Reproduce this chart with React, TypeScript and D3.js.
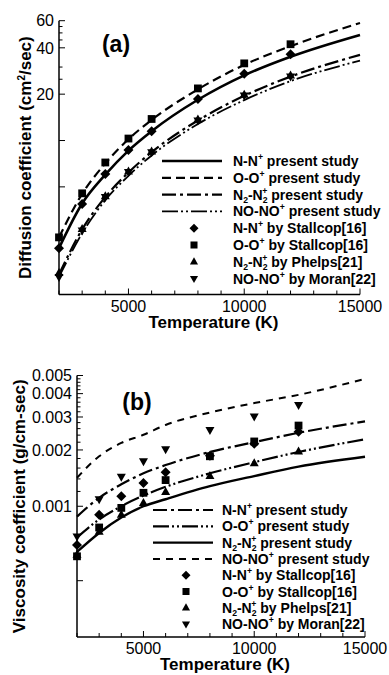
import React from 'react';
import * as d3 from 'd3';

// ---------- data ----------
const lineTemps = [2000, 3000, 4000, 5000, 6000, 8000, 10000, 12000, 15000];
const refTemps = [2000, 3000, 4000, 5000, 6000, 8000, 10000, 12000];
const xTickLabels = [5000, 10000, 15000];

// Panel (a) diffusion coefficient (cm^2/sec)
const diffNNLine = [2.0, 3.9, 6.0, 8.6, 11.5, 18.4, 26.5, 35.0, 48.5];
const diffOOLine = [2.35, 4.5, 7.1, 10.2, 13.6, 21.5, 31.0, 41.0, 58.0];
const diffN2Line = [1.35, 2.65, 4.3, 6.2, 8.4, 13.5, 19.5, 26.0, 36.0];
const diffNOLine = [1.3, 2.5, 4.1, 5.9, 8.0, 12.8, 18.3, 24.3, 33.0];
const diffNNStallcop = [2.0, 3.87, 6.06, 8.68, 11.5, 18.6, 27.1, 36.3];
const diffOOStallcop = [2.35, 4.54, 7.2, 10.3, 13.8, 21.8, 31.7, 42.2];
const diffN2Phelps = [1.38, 2.66, 4.35, 6.3, 8.5, 13.7, 19.8, 26.4];
const diffNOMoran = [1.3, 2.6, 4.3, 6.25, 8.4, 13.5, 19.6, 26.0];
const diffYTickLabels = [20, 40, 60];
const diffYUnlabeled = [5, 10];
const diffYMinor = [25, 30, 45, 50, 55];

// Panel (b) viscosity coefficient (g/cm-sec)
const viscNNLine = [0.00088, 0.00111, 0.00131, 0.0015, 0.00166, 0.00195, 0.0022, 0.00247, 0.00284];
const viscOOLine = [0.00068, 0.00085, 0.001, 0.00114, 0.00127, 0.0015, 0.00172, 0.00195, 0.00228];
const viscN2Line = [0.00057, 0.00072, 0.00087, 0.001, 0.00109, 0.00128, 0.00145, 0.00163, 0.00184];
const viscNOLine = [0.00142, 0.00185, 0.00218, 0.00241, 0.00272, 0.00317, 0.00356, 0.00394, 0.0048];
const viscNNStallcop = [0.00062, 0.0009, 0.00113, 0.00133, 0.00152, 0.00186, 0.00216, 0.0025];
const viscOOStallcop = [0.00054, 0.00077, 0.00098, 0.00118, 0.00138, 0.00185, 0.00222, 0.0027];
const viscN2Phelps = [0.00055, 0.00073, 0.0009, 0.00104, 0.00119, 0.00145, 0.0017, 0.00196];
const viscNOMoran = [0.00069, 0.00109, 0.00144, 0.00174, 0.00202, 0.00256, 0.00302, 0.00348];
const viscYTickLabels = ['0.001', '0.002', '0.003', '0.004', '0.005'];
const viscYUnlabeled = [0.0004];
const viscYMinor = [0.0012, 0.0014, 0.0016, 0.0018, 0.0022, 0.0024, 0.0026, 0.0028,
  0.0032, 0.0034, 0.0036, 0.0038, 0.0042, 0.0044, 0.0046, 0.0048];

// ---------- styles ----------
const DASH: Record<string, string | undefined> = {
  solid: undefined,
  dashed: '9,5',
  dashedShort: '7,6',
  dashdot: '14,4,3,4',
  dashdotdot: '16,3,2,3,2,3',
};

type Species = 'NN' | 'OO' | 'N2' | 'NO';

function SpeciesText({ sp, suffix, fs }: { sp: Species; suffix: string; fs: number }) {
  const s = fs * 0.62;
  if (sp === 'N2') {
    return (
      <>
        <tspan>N</tspan>
        <tspan fontSize={s} dy={3}>2</tspan>
        <tspan dy={-3}>-N</tspan>
        <tspan fontSize={s} dy={3}>2</tspan>
        <tspan fontSize={s} dx={-s * 0.6} dy={-9}>+</tspan>
        <tspan dy={6}>{suffix}</tspan>
      </>
    );
  }
  const base = sp === 'NN' ? 'N-N' : sp === 'OO' ? 'O-O' : 'NO-NO';
  return (
    <>
      <tspan>{base}</tspan>
      <tspan fontSize={s} dy={-6}>+</tspan>
      <tspan dy={6}>{suffix}</tspan>
    </>
  );
}

function markerPath(kind: string, cx: number, cy: number, s: number) {
  if (kind === 'diamond') return `M${cx},${cy - s}L${cx + s},${cy}L${cx},${cy + s}L${cx - s},${cy}Z`;
  if (kind === 'square') {
    const h = s * 0.78;
    return `M${cx - h},${cy - h}h${2 * h}v${2 * h}h${-2 * h}Z`;
  }
  if (kind === 'up') return `M${cx},${cy - s}L${cx + s * 0.9},${cy + s * 0.6}L${cx - s * 0.9},${cy + s * 0.6}Z`;
  return `M${cx},${cy + s}L${cx + s * 0.9},${cy - s * 0.6}L${cx - s * 0.9},${cy - s * 0.6}Z`;
}

type LineDef = { sp: Species; vals: number[]; dash: string; width: number };
type MarkDef = { sp: Species; vals: number[]; kind: string; suffix: string };

type PanelProps = {
  xRange: [number, number];
  yDomain: [number, number];
  yRange: [number, number];
  lines: LineDef[];
  marks: MarkDef[];
  yLabels: { v: number; t: string }[];
  yUnlabeled: number[];
  yMinor: number[];
  yLabelX: number;
  yTitle: React.ReactNode;
  yTitleX: number;
  panelLabel: string;
  panelLabelPos: [number, number];
  legend: { lineX0: number; lineX1: number; markX: number; textX: number; y0: number; dy: number };
};

function Panel(p: PanelProps) {
  const x = d3.scaleLinear().domain([2000, 15000]).range(p.xRange);
  const y = d3.scaleLog().domain(p.yDomain).range(p.yRange);
  const x0 = p.xRange[0];
  const yb = p.yRange[0];
  const line = d3
    .line<number>()
    .x((_, i) => x(lineTemps[i]))
    .y((v) => y(v))
    .curve(d3.curveMonotoneX);
  const xTicks = d3.range(2000, 15001, 1000);
  const font = 'Liberation Sans, Arial, Helvetica, sans-serif';
  const legFs = 14;
  const L = p.legend;
  return (
    <g fontFamily={font} fill="#000">
      {/* axes */}
      <line x1={x0} x2={x0} y1={p.yRange[1]} y2={yb} stroke="#000" strokeWidth={1.5} />
      <line x1={x0} x2={p.xRange[1]} y1={yb} y2={yb} stroke="#000" strokeWidth={1.5} />
      {xTicks.map((t) => (
        <line key={t} x1={x(t)} x2={x(t)} y1={yb} y2={yb - (t % 5000 === 0 ? 6 : 4)} stroke="#000" strokeWidth={1} />
      ))}
      {xTickLabels.map((t) => (
        <text key={t} x={x(t)} y={yb + 17} textAnchor="middle" fontSize={16}>
          {t}
        </text>
      ))}
      <text x={(p.xRange[0] + p.xRange[1]) / 2 + 4} y={yb + 33} textAnchor="middle" fontSize={17} fontWeight="bold">
        Temperature (K)
      </text>
      {p.yLabels.map((d) => (
        <g key={d.t}>
          <line x1={x0} x2={x0 + 6} y1={y(d.v)} y2={y(d.v)} stroke="#000" strokeWidth={1} />
          <text x={p.yLabelX} y={y(d.v)} dy="0.36em" textAnchor="end" fontSize={16}>
            {d.t}
          </text>
        </g>
      ))}
      {p.yUnlabeled.map((v) => (
        <line key={v} x1={x0} x2={x0 + 6} y1={y(v)} y2={y(v)} stroke="#000" strokeWidth={1} />
      ))}
      {p.yMinor.map((v) => (
        <line key={v} x1={x0} x2={x0 + 3.5} y1={y(v)} y2={y(v)} stroke="#000" strokeWidth={1} />
      ))}
      <text
        transform={`translate(${p.yTitleX},${(p.yRange[0] + p.yRange[1]) / 2}) rotate(-90)`}
        textAnchor="middle"
        dy="0.36em"
        fontSize={17}
        fontWeight="bold"
      >
        {p.yTitle}
      </text>
      <text x={p.panelLabelPos[0]} y={p.panelLabelPos[1]} textAnchor="middle" fontSize={23} fontWeight="bold">
        {p.panelLabel}
      </text>
      {/* curves */}
      {p.lines.map((l) => (
        <path
          key={l.sp}
          d={line(l.vals) || ''}
          fill="none"
          stroke="#000"
          strokeWidth={l.width}
          strokeDasharray={DASH[l.dash]}
        />
      ))}
      {/* markers */}
      {p.marks.map((m) => (
        <g key={m.sp}>
          {m.vals.map((v, i) => (
            <path key={i} d={markerPath(m.kind, x(refTemps[i]), y(v), 5)} fill="#000" />
          ))}
        </g>
      ))}
      {/* legend */}
      {p.lines.map((l, i) => {
        const yy = L.y0 + i * L.dy;
        return (
          <g key={'ll' + l.sp}>
            <line x1={L.lineX0} x2={L.lineX1} y1={yy} y2={yy} stroke="#000" strokeWidth={l.width} strokeDasharray={DASH[l.dash]} />
            <text x={L.textX} y={yy} dy="0.36em" fontSize={legFs} fontWeight="bold">
              <SpeciesText sp={l.sp} suffix=" present study" fs={legFs} />
            </text>
          </g>
        );
      })}
      {p.marks.map((m, i) => {
        const yy = L.y0 + (i + 4) * L.dy;
        return (
          <g key={'lm' + m.sp}>
            <path d={markerPath(m.kind, L.markX, yy, 4.5)} fill="#000" />
            <text x={L.textX} y={yy} dy="0.36em" fontSize={legFs} fontWeight="bold">
              <SpeciesText sp={m.sp} suffix={m.suffix} fs={legFs} />
            </text>
          </g>
        );
      })}
    </g>
  );
}

export default function App() {
  const marksA: MarkDef[] = [
    { sp: 'NN', vals: diffNNStallcop, kind: 'diamond', suffix: ' by Stallcop[16]' },
    { sp: 'OO', vals: diffOOStallcop, kind: 'square', suffix: ' by Stallcop[16]' },
    { sp: 'N2', vals: diffN2Phelps, kind: 'up', suffix: ' by Phelps[21]' },
    { sp: 'NO', vals: diffNOMoran, kind: 'down', suffix: ' by Moran[22]' },
  ];
  const marksB: MarkDef[] = [
    { sp: 'NN', vals: viscNNStallcop, kind: 'diamond', suffix: ' by Stallcop[16]' },
    { sp: 'OO', vals: viscOOStallcop, kind: 'square', suffix: ' by Stallcop[16]' },
    { sp: 'N2', vals: viscN2Phelps, kind: 'up', suffix: ' by Phelps[21]' },
    { sp: 'NO', vals: viscNOMoran, kind: 'down', suffix: ' by Moran[22]' },
  ];
  return (
    <svg
      width={389}
      height={675}
      style={{ position: 'absolute', left: 0, top: 0, background: '#fff' }}
      xmlns="http://www.w3.org/2000/svg"
    >
      <rect width={389} height={675} fill="#fff" />
      <Panel
        xRange={[59, 360]}
        yDomain={[1, 60]}
        yRange={[294.5, 20.7]}
        lines={[
          { sp: 'NN', vals: diffNNLine, dash: 'solid', width: 2.6 },
          { sp: 'OO', vals: diffOOLine, dash: 'dashed', width: 2.2 },
          { sp: 'N2', vals: diffN2Line, dash: 'dashdot', width: 2.2 },
          { sp: 'NO', vals: diffNOLine, dash: 'dashdotdot', width: 1.8 },
        ]}
        marks={marksA}
        yLabels={diffYTickLabels.map((v) => ({ v, t: String(v) }))}
        yUnlabeled={diffYUnlabeled}
        yMinor={diffYMinor}
        yLabelX={54}
        yTitle={
          <>
            Diffusion coefficient (cm<tspan fontSize={10} dy={-6}>2</tspan>
            <tspan dy={6}>/sec)</tspan>
          </>
        }
        yTitleX={25}
        panelLabel="(a)"
        panelLabelPos={[116, 52]}
        legend={{ lineX0: 162, lineX1: 222, markX: 194, textX: 233, y0: 161, dy: 16.8 }}
      />
      <Panel
        xRange={[77, 365]}
        yDomain={[0.0002, 0.005]}
        yRange={[637, 375.5]}
        lines={[
          { sp: 'NN', vals: viscNNLine, dash: 'dashdot', width: 2.2 },
          { sp: 'OO', vals: viscOOLine, dash: 'dashdotdot', width: 2.2 },
          { sp: 'N2', vals: viscN2Line, dash: 'solid', width: 2.4 },
          { sp: 'NO', vals: viscNOLine, dash: 'dashedShort', width: 2 },
        ]}
        marks={marksB}
        yLabels={viscYTickLabels.map((t) => ({ v: +t, t }))}
        yUnlabeled={viscYUnlabeled}
        yMinor={viscYMinor}
        yLabelX={72}
        yTitle={<>Viscosity coefficient (g/cm-sec)</>}
        yTitleX={19}
        panelLabel="(b)"
        panelLabelPos={[137, 410]}
        legend={{ lineX0: 153, lineX1: 213, markX: 186, textX: 222, y0: 510, dy: 16.3 }}
      />
    </svg>
  );
}
